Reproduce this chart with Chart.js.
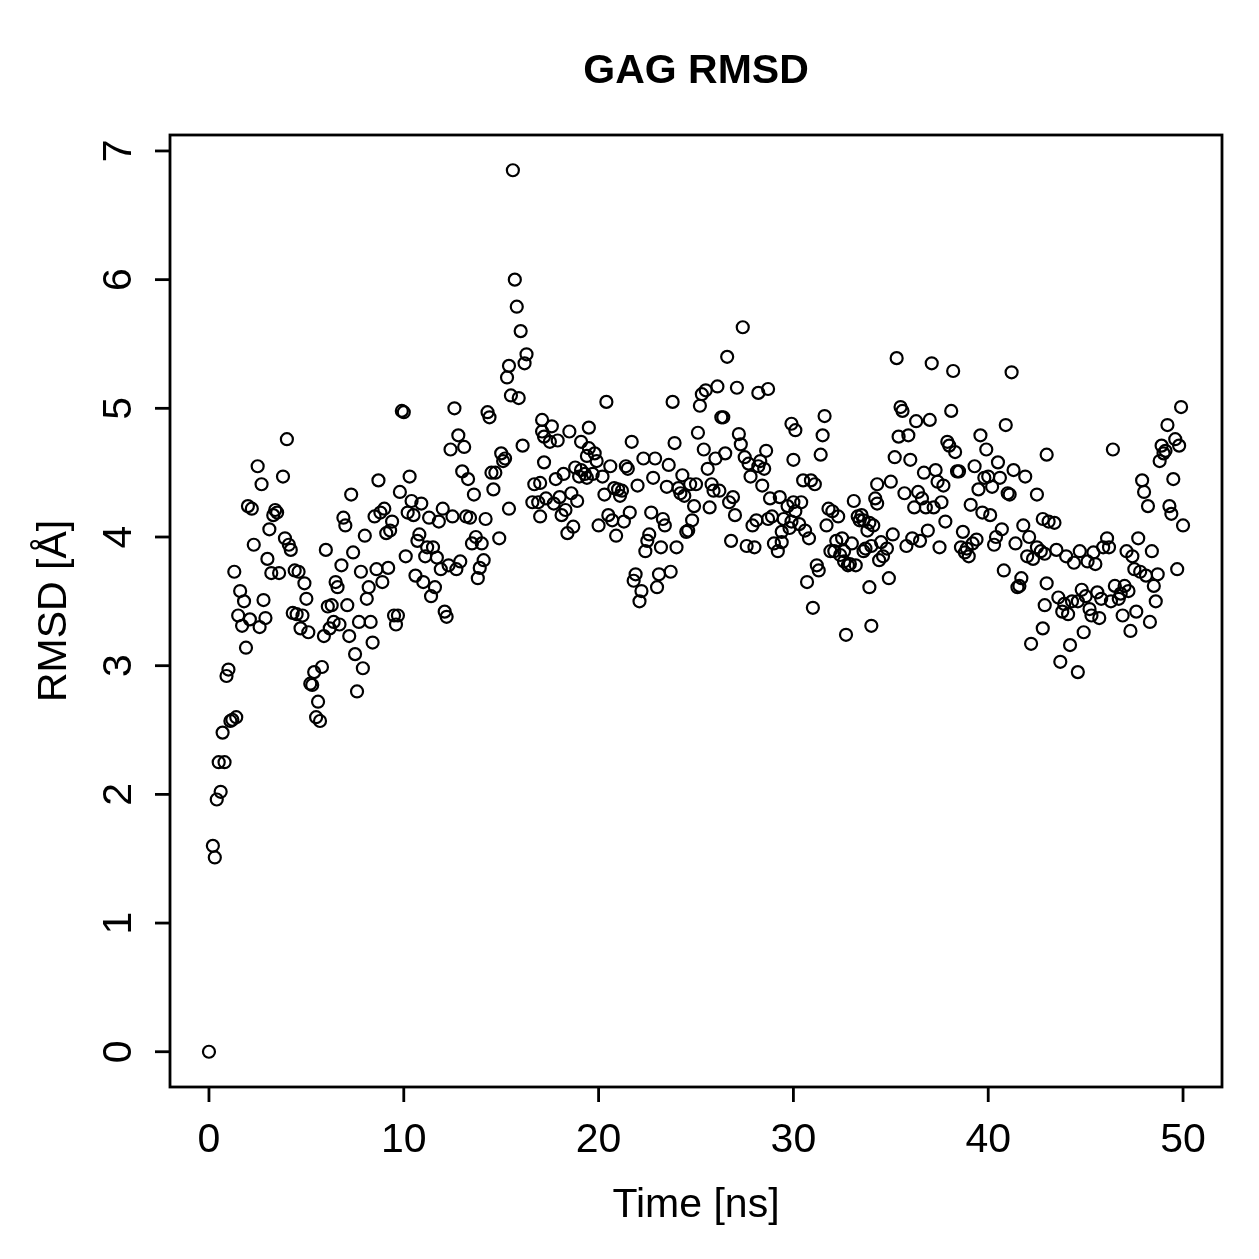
<!DOCTYPE html>
<html>
<head>
<meta charset="utf-8">
<script src="https://cdn.jsdelivr.net/npm/chart.js@4.4.1/dist/chart.umd.min.js"></script>
<style>
  html, body { margin: 0; padding: 0; background: #fff; }
  #wrap { width: 1259px; height: 1259px; }
</style>
</head>
<body>
<div id="wrap"><canvas id="rmsd" width="1259" height="1259"></canvas></div>
<script>
'use strict';

var chartTitle = 'GAG RMSD';
var xTitle = 'Time [ns]';
var yTitle = 'RMSD [Å]';
var xTicks = [0, 10, 20, 30, 40, 50];
var yTicks = [0, 1, 2, 3, 4, 5, 6, 7];

// time [ns]
var times = [
  0.0, 0.2, 0.3, 0.4, 0.5, 0.6, 0.7, 0.8, 0.9, 1.0, 1.1, 1.2, 1.3, 1.4, 1.5, 1.6, 1.7, 1.8, 1.9, 2.0,
  2.1, 2.2, 2.3, 2.5, 2.6, 2.7, 2.8, 2.9, 3.0, 3.1, 3.2, 3.3, 3.4, 3.5, 3.6, 3.8, 3.9, 4.0, 4.1, 4.2,
  4.3, 4.4, 4.5, 4.6, 4.7, 4.8, 4.9, 5.0,
  5.1, 5.2, 5.3, 5.4, 5.5, 5.6, 5.7, 5.8, 5.9, 6.0, 6.1, 6.2, 6.3, 6.4, 6.5, 6.6, 6.7, 6.8, 6.9, 7.0,
  7.1, 7.2, 7.3, 7.4, 7.5, 7.6, 7.7, 7.8, 7.9, 8.0, 8.1, 8.2, 8.3, 8.4, 8.5, 8.6, 8.7, 8.8, 8.9, 9.0,
  9.1, 9.2, 9.3, 9.4, 9.5, 9.6, 9.7, 9.8, 9.9, 10.0,
  10.1, 10.2, 10.3, 10.4, 10.5, 10.6, 10.7, 10.8, 10.9, 11.0, 11.1, 11.2, 11.3, 11.4, 11.5, 11.6, 11.7, 11.8, 11.9, 12.0,
  12.1, 12.2, 12.3, 12.4, 12.5, 12.6, 12.7, 12.8, 12.9, 13.0, 13.1, 13.2, 13.3, 13.4, 13.5, 13.6, 13.7, 13.8, 13.9, 14.0,
  14.1, 14.2, 14.3, 14.4, 14.5, 14.6, 14.7, 14.9,
  15.0, 15.1, 15.2, 15.3, 15.4, 15.4, 15.5, 15.6, 15.7, 15.8, 15.9, 16.0, 16.1, 16.2, 16.3, 16.6, 16.7, 16.9, 17.0, 17.0,
  17.1, 17.1, 17.2, 17.2, 17.3, 17.5, 17.6, 17.7, 17.8, 17.9, 18.0, 18.1, 18.2, 18.3, 18.4, 18.5, 18.6, 18.7, 18.8, 18.9,
  19.0, 19.1, 19.1, 19.3, 19.4, 19.4, 19.5, 19.5, 19.7, 19.8, 19.9,
  20.0, 20.2, 20.3, 20.4, 20.5, 20.6, 20.7, 20.8, 20.9, 21.0, 21.1, 21.2, 21.3, 21.4, 21.5, 21.6, 21.7, 21.8, 21.9, 22.0,
  22.1, 22.2, 22.3, 22.4, 22.5, 22.6, 22.7, 22.8, 22.9, 23.0, 23.1, 23.2, 23.3, 23.4, 23.5, 23.6, 23.7, 23.8, 23.9, 24.0,
  24.1, 24.2, 24.3, 24.4, 24.5, 24.6, 24.7, 24.8, 24.9, 25.0,
  25.1, 25.2, 25.3, 25.4, 25.5, 25.6, 25.7, 25.8, 25.9, 26.0, 26.1, 26.2, 26.3, 26.4, 26.5, 26.6, 26.7, 26.8, 26.9, 27.0,
  27.1, 27.2, 27.3, 27.4, 27.5, 27.6, 27.7, 27.8, 27.9, 28.0, 28.1, 28.2, 28.2, 28.3, 28.4, 28.5, 28.6, 28.7, 28.7, 28.8,
  28.9, 29.0, 29.2, 29.3, 29.4, 29.4, 29.5, 29.7, 29.8, 29.9, 29.9, 30.0,
  30.0, 30.1, 30.1, 30.3, 30.4, 30.5, 30.6, 30.7, 30.8, 30.9, 31.0, 31.1, 31.2, 31.3, 31.4, 31.5, 31.6, 31.7, 31.8, 31.9,
  32.0, 32.1, 32.2, 32.3, 32.4, 32.5, 32.6, 32.6, 32.7, 32.8, 32.9, 33.0, 33.1, 33.2, 33.3, 33.4, 33.5, 33.6, 33.6, 33.7,
  33.8, 33.9, 33.9, 34.0, 34.0, 34.1, 34.2, 34.3, 34.3, 34.4, 34.5, 34.6, 34.8, 34.9, 35.0,
  35.1, 35.2, 35.3, 35.4, 35.5, 35.6, 35.7, 35.8, 35.9, 36.0, 36.1, 36.2, 36.3, 36.4, 36.5, 36.6, 36.7, 36.8, 36.9, 37.0,
  37.1, 37.2, 37.3, 37.4, 37.5, 37.6, 37.7, 37.8, 37.9, 38.0, 38.1, 38.2, 38.3, 38.4, 38.5, 38.6, 38.7, 38.8, 38.9, 39.0,
  39.1, 39.2, 39.3, 39.4, 39.5, 39.6, 39.7, 39.8, 39.9,
  40.0, 40.1, 40.2, 40.3, 40.4, 40.5, 40.6, 40.7, 40.8, 40.9, 41.0, 41.1, 41.2, 41.3, 41.4, 41.5, 41.6, 41.7, 41.8, 41.9,
  42.0, 42.1, 42.2, 42.3, 42.5, 42.5, 42.7, 42.8, 42.8, 42.9, 42.9, 43.0, 43.0, 43.1, 43.4, 43.5, 43.6, 43.7, 43.8, 43.9,
  44.0, 44.1, 44.2, 44.3, 44.4, 44.6, 44.6, 44.7, 44.8, 44.9, 45.0,
  45.1, 45.2, 45.3, 45.4, 45.5, 45.6, 45.7, 45.8, 45.9, 46.1, 46.2, 46.3, 46.4, 46.5, 46.7, 46.8, 46.9, 47.0, 47.1, 47.2,
  47.3, 47.4, 47.5, 47.6, 47.7, 47.8, 47.9, 48.0, 48.1, 48.2, 48.3, 48.4, 48.5, 48.6, 48.7, 48.8, 48.9, 49.0, 49.1, 49.2,
  49.3, 49.4, 49.5, 49.6, 49.7, 49.8, 49.9, 50.0
];

// RMSD [Å], same order as times
var rmsd = [
  0.00, 1.60, 1.51, 1.96, 2.25, 2.02, 2.48, 2.25, 2.92, 2.97, 2.57, 2.58, 3.73, 2.60, 3.39, 3.58, 3.31, 3.50, 3.14, 4.24,
  3.36, 4.22, 3.94, 4.55, 3.30, 4.41, 3.51, 3.37, 3.83, 4.06, 3.72, 4.17, 4.21, 4.19, 3.72, 4.47, 3.99, 4.76, 3.94, 3.90,
  3.41, 3.74, 3.40, 3.73, 3.29, 3.39, 3.64, 3.52,
  3.26, 2.86, 2.85, 2.95, 2.60, 2.72, 2.57, 2.99, 3.23, 3.90, 3.46, 3.29, 3.47, 3.34, 3.65, 3.61, 3.32, 3.78, 4.15, 4.09,
  3.47, 3.23, 4.33, 3.88, 3.09, 2.80, 3.34, 3.73, 2.98, 4.01, 3.52, 3.61, 3.34, 3.18, 4.16, 3.75, 4.44, 4.19, 3.65, 4.22,
  4.03, 3.76, 4.05, 4.12, 3.39, 3.32, 3.39, 4.35, 4.98, 4.97,
  3.85, 4.19, 4.47, 4.28, 4.17, 3.70, 3.97, 4.02, 4.26, 3.65, 3.85, 3.92, 4.15, 3.54, 3.92, 3.61, 3.84, 4.12, 3.75, 4.22,
  3.42, 3.38, 3.78, 4.68, 4.16, 5.00, 3.75, 4.79, 3.81, 4.51, 4.70, 4.16, 4.45, 4.15, 3.95, 4.33, 4.00, 3.68, 3.76, 3.95,
  3.82, 4.14, 4.97, 4.93, 4.50, 4.37, 4.50, 3.99,
  4.65, 4.59, 4.61, 5.24, 4.22, 5.33, 5.10, 6.85, 6.00, 5.79, 5.08, 5.60, 4.71, 5.35, 5.42, 4.27, 4.41, 4.27, 4.42, 4.16,
  4.91, 4.82, 4.58, 4.78, 4.30, 4.74, 4.86, 4.26, 4.45, 4.75, 4.31, 4.17, 4.49, 4.21, 4.03, 4.82, 4.34, 4.08, 4.54, 4.28,
  4.47, 4.74, 4.52, 4.49, 4.46, 4.63, 4.85, 4.69, 4.49, 4.65, 4.59,
  4.09, 4.47, 4.33, 5.05, 4.17, 4.55, 4.13, 4.38, 4.01, 4.37, 4.32, 4.36, 4.12, 4.55, 4.53, 4.19, 4.74, 3.66, 3.71, 4.40,
  3.50, 3.58, 4.61, 3.89, 3.97, 4.02, 4.19, 4.46, 4.61, 3.61, 3.71, 3.92, 4.14, 4.09, 4.39, 4.56, 3.73, 5.05, 4.73, 3.92,
  4.38, 4.34, 4.48, 4.32, 4.04, 4.05, 4.41, 4.13, 4.24, 4.41,
  4.81, 5.02, 5.11, 4.68, 5.14, 4.53, 4.23, 4.41, 4.36, 4.61, 5.17, 4.36, 4.93, 4.93, 4.65, 5.40, 4.27, 3.97, 4.31, 4.17,
  5.16, 4.80, 4.72, 5.63, 4.62, 3.93, 4.57, 4.47, 4.09, 3.92, 4.13, 4.55, 5.12, 4.59, 4.40, 4.53, 4.67, 5.15, 4.14, 4.30,
  4.16, 3.95, 3.89, 4.31, 3.96, 4.04, 4.14, 4.24, 4.07, 4.12, 4.88, 4.60,
  4.27, 4.20, 4.83, 4.10, 4.27, 4.44, 4.05, 3.65, 3.99, 4.44, 3.45, 4.41, 3.78, 3.74, 4.64, 4.79, 4.94, 4.09, 4.22, 3.89,
  4.20, 3.89, 3.97, 4.16, 3.86, 3.99, 3.81, 3.89, 3.24, 3.78, 3.79, 3.95, 4.28, 3.78, 4.16, 4.13, 4.17, 4.13, 3.89, 3.91,
  4.05, 4.11, 3.61, 3.93, 3.31, 4.09, 4.30, 4.26, 4.41, 3.82, 3.96, 3.85, 3.91, 3.68, 4.43,
  4.02, 4.62, 5.39, 4.78, 5.01, 4.98, 4.34, 3.93, 4.79, 4.60, 3.99, 4.23, 4.90, 4.35, 3.97, 4.30, 4.50, 4.23, 4.05, 4.91,
  5.35, 4.23, 4.52, 4.43, 3.92, 4.27, 4.40, 4.12, 4.74, 4.71, 4.98, 5.29, 4.66, 4.51, 4.51, 3.92, 4.04, 3.88, 3.91, 3.85,
  4.25, 3.95, 4.55, 3.98, 4.37, 4.79, 4.19, 4.46, 4.68,
  4.47, 4.17, 4.39, 3.94, 4.00, 4.58, 4.46, 4.06, 3.74, 4.87, 4.34, 4.33, 5.28, 4.52, 3.95, 3.61, 3.62, 3.68, 4.09, 4.47,
  3.85, 4.00, 3.17, 3.83, 4.33, 3.92, 3.89, 4.14, 3.29, 3.87, 3.47, 4.64, 3.64, 4.12, 4.11, 3.90, 3.53, 3.03, 3.42, 3.48,
  3.85, 3.40, 3.16, 3.50, 3.80, 3.50, 2.95, 3.89, 3.59, 3.26, 3.54,
  3.81, 3.44, 3.39, 3.88, 3.79, 3.57, 3.37, 3.52, 3.92, 3.99, 3.92, 3.50, 4.68, 3.62, 3.52, 3.56, 3.39, 3.62, 3.89, 3.58,
  3.27, 3.85, 3.75, 3.42, 3.99, 3.73, 4.44, 4.35, 3.70, 4.24, 3.34, 3.89, 3.62, 3.50, 3.71, 4.59, 4.71, 4.65, 4.67, 4.87,
  4.24, 4.18, 4.45, 4.76, 3.75, 4.71, 5.01, 4.09
];

var FONT = '"Liberation Sans", Arial, Helvetica, sans-serif';

function rangeWithPad(vals) {
  // R-style 4% extension on each side
  var lo = Math.min.apply(null, vals), hi = Math.max.apply(null, vals);
  var pad = (hi - lo) * 0.04;
  return { min: lo - pad, max: hi + pad };
}

var xr = rangeWithPad(times);
var yr = rangeWithPad(rmsd);

var points = times.map(function(t, i) { return { x: t, y: rmsd[i] }; });

// base-graphics look: box, outward ticks, rotated y labels
var rFrame = {
  id: 'rFrame',
  afterDraw: function(chart) {
    var ctx = chart.ctx, a = chart.chartArea;
    var sx = chart.scales.x, sy = chart.scales.y;
    ctx.save();
    ctx.strokeStyle = '#000';
    ctx.fillStyle = '#000';
    ctx.lineWidth = 2.8;
    ctx.lineCap = 'butt';
    ctx.strokeRect(a.left, a.top, a.right - a.left, a.bottom - a.top);

    ctx.font = '41px ' + FONT;
    ctx.textAlign = 'center';
    ctx.textBaseline = 'alphabetic';
    xTicks.forEach(function(v) {
      var px = sx.getPixelForValue(v);
      ctx.beginPath();
      ctx.moveTo(px, a.bottom);
      ctx.lineTo(px, a.bottom + 15);
      ctx.stroke();
      ctx.fillText(String(v), px, a.bottom + 65);
    });

    yTicks.forEach(function(v) {
      var py = sy.getPixelForValue(v);
      ctx.beginPath();
      ctx.moveTo(a.left, py);
      ctx.lineTo(a.left - 15, py);
      ctx.stroke();
      ctx.save();
      ctx.translate(a.left - 39, py);
      ctx.rotate(-Math.PI / 2);
      ctx.fillText(String(v), 0, 0);
      ctx.restore();
    });

    var cx = (a.left + a.right) / 2, cy = (a.top + a.bottom) / 2;
    ctx.fillText(xTitle, cx, a.bottom + 130);
    ctx.save();
    ctx.translate(a.left - 104, cy);
    ctx.rotate(-Math.PI / 2);
    ctx.fillText(yTitle, 0, 0);
    ctx.restore();

    ctx.font = 'bold 41px ' + FONT;
    ctx.fillText(chartTitle, cx, a.top - 52);
    ctx.restore();
  }
};

new Chart(document.getElementById('rmsd').getContext('2d'), {
  type: 'scatter',
  data: {
    datasets: [{
      data: points,
      pointStyle: 'circle',
      pointRadius: 6,
      pointHoverRadius: 6,
      borderColor: '#000',
      backgroundColor: 'rgba(0,0,0,0)',
      borderWidth: 2.2
    }]
  },
  options: {
    responsive: false,
    devicePixelRatio: 1,
    animation: false,
    events: [],
    layout: { padding: { left: 170, right: 37, top: 135, bottom: 172 } },
    scales: {
      x: { type: 'linear', min: xr.min, max: xr.max, display: false },
      y: { type: 'linear', min: yr.min, max: yr.max, display: false }
    },
    plugins: {
      legend: { display: false },
      title: { display: false },
      tooltip: { enabled: false }
    }
  },
  plugins: [rFrame]
});
</script>
</body>
</html>
